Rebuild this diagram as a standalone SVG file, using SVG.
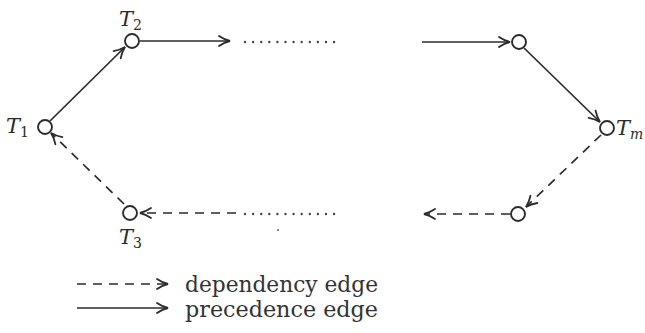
<svg xmlns="http://www.w3.org/2000/svg" width="645" height="333" viewBox="0 0 645 333">
  <style>
    .node { fill: #ffffff; stroke: #2b2b2b; stroke-width: 1.9; }
    .edge { fill: none; stroke: #2b2b2b; stroke-width: 1.7; }
    .dep { stroke-dasharray: 9 7; }
    .prec { marker-end: url(#head); }
    .depa { marker-end: url(#head); }
    .dots { fill: none; stroke: #444; stroke-width: 2.4; stroke-linecap: round; stroke-dasharray: 0 8.1; }
    .lbl { font-family: "DejaVu Serif", "Liberation Serif", serif; font-style: italic; font-size: 21px; fill: #2b2b2b; }
    .sub { font-size: 14px; font-style: normal; }
    .subi { font-size: 14px; font-style: italic; }
    .legend { font-family: "DejaVu Serif", "Liberation Serif", serif; font-size: 22px; fill: #333333; }
  </style>
  <defs>
    <!-- open two-stroke arrowhead, tip at the end of the path -->
    <marker id="head" markerUnits="userSpaceOnUse" viewBox="-13 -7 15 14" refX="0" refY="0" markerWidth="15" markerHeight="14" orient="auto" overflow="visible">
      <path d="M-11,-5 Q-5.5,-1.3 0,0 Q-5.5,1.3 -11,5" fill="none" stroke="#2b2b2b" stroke-width="1.8" stroke-dasharray="none" stroke-linecap="round"/>
    </marker>
  </defs>
  <rect width="645" height="333" fill="#ffffff"/>

  <g id="connectors">
    <!-- precedence edges -->
    <line class="edge prec" x1="50" y1="121" x2="125" y2="47"/>
    <line class="edge prec" x1="140" y1="41" x2="230" y2="41"/>
    <line class="edge prec" x1="422" y1="42" x2="510" y2="42"/>
    <line class="edge prec" x1="524" y1="48" x2="600" y2="122"/>
    <!-- dependency edges -->
    <line class="edge dep depa" x1="601" y1="135" x2="526" y2="207"/>
    <line class="edge dep depa" x1="510" y1="214" x2="424" y2="214"/>
    <line class="edge dep depa" x1="236" y1="213" x2="140" y2="213"/>
    <line class="edge dep depa" x1="124" y1="204" x2="51" y2="133"/>
    <!-- elided parts of the cycle -->
    <line class="dots" x1="245" y1="42" x2="335" y2="42"/>
    <line class="dots" x1="245" y1="214" x2="335" y2="214"/>
    <circle cx="278" cy="230" r="0.9" fill="#555"/>
  </g>

  <g id="T1">
    <circle class="node" cx="45" cy="127" r="7"/>
    <text class="lbl" x="6" y="133">T<tspan class="sub" dy="4">1</tspan></text>
  </g>
  <g id="T2">
    <circle class="node" cx="132" cy="41" r="7"/>
    <text class="lbl" x="119" y="26">T<tspan class="sub" dy="4">2</tspan></text>
  </g>
  <g id="Tk">
    <circle class="node" cx="519" cy="42" r="7"/>
  </g>
  <g id="Tm">
    <circle class="node" cx="607" cy="128" r="7"/>
    <text class="lbl" x="616" y="135">T<tspan class="subi" dy="4">m</tspan></text>
  </g>
  <g id="Tj">
    <circle class="node" cx="518" cy="214" r="7"/>
  </g>
  <g id="T3">
    <circle class="node" cx="130" cy="213" r="7"/>
    <text class="lbl" x="119" y="244">T<tspan class="sub" dy="4">3</tspan></text>
  </g>

  <g id="legend">
    <line class="edge dep depa" x1="77" y1="284" x2="168" y2="284"/>
    <line class="edge prec" x1="77" y1="308" x2="168" y2="308"/>
    <text class="legend" x="185" y="292" textLength="193" lengthAdjust="spacingAndGlyphs">dependency edge</text>
    <text class="legend" x="185" y="317" textLength="193" lengthAdjust="spacingAndGlyphs">precedence edge</text>
  </g>
</svg>
